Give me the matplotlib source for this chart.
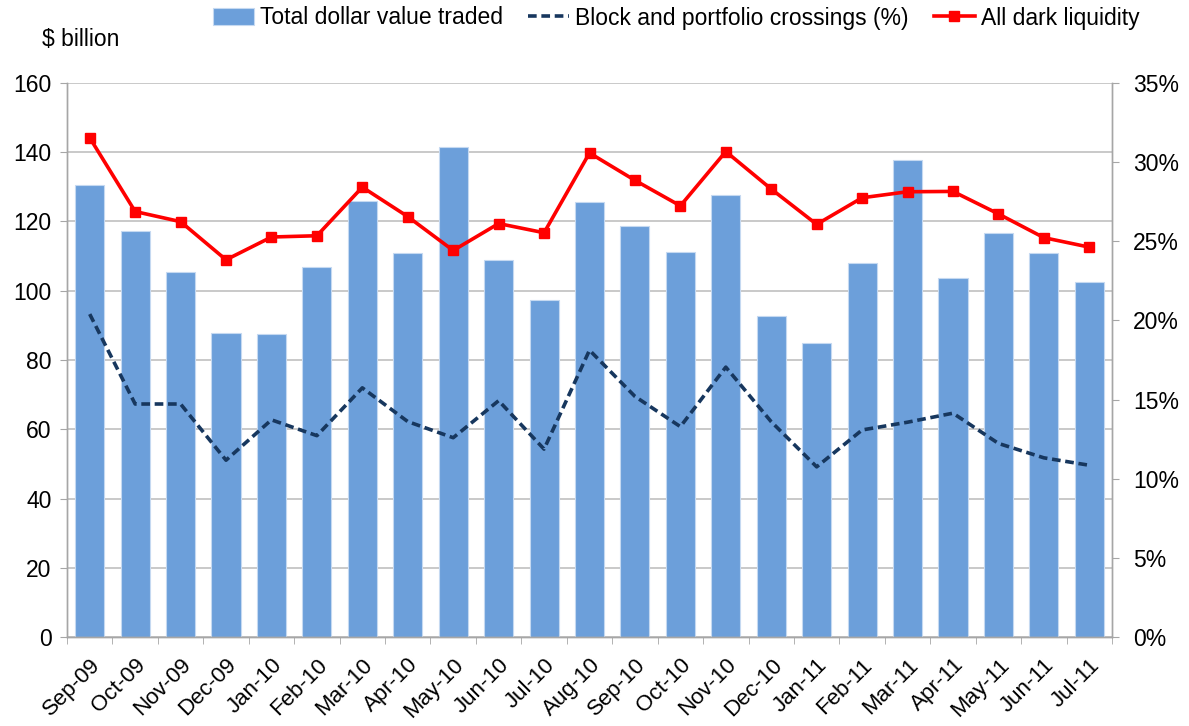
import matplotlib
matplotlib.use("Agg")
import matplotlib.pyplot as plt
import numpy as np
from matplotlib.ticker import FuncFormatter, MultipleLocator

plt.rcParams['font.family'] = ['Liberation Sans', 'DejaVu Sans']

months = ["Sep-09", "Oct-09", "Nov-09", "Dec-09", "Jan-10", "Feb-10", "Mar-10", "Apr-10",
          "May-10", "Jun-10", "Jul-10", "Aug-10", "Sep-10", "Oct-10", "Nov-10", "Dec-10",
          "Jan-11", "Feb-11", "Mar-11", "Apr-11", "May-11", "Jun-11", "Jul-11"]
total_value = [130.5, 117.3, 105.5, 87.9, 87.5, 106.9, 125.9, 110.8, 141.6, 109.0, 97.2, 125.6,
               118.7, 111.2, 127.7, 92.6, 85.0, 108.0, 137.8, 103.7, 116.6, 110.9, 102.6]
block_pct = [20.4, 14.72, 14.72, 11.17, 13.72, 12.72, 15.74, 13.61, 12.59, 14.93, 11.87, 18.12,
             15.2, 13.29, 17.05, 13.6, 10.75, 13.08, 13.57, 14.14, 12.23, 11.32, 10.85]
dark_pct = [31.54, 26.88, 26.24, 23.83, 25.27, 25.35, 28.42, 26.56, 24.42, 26.12, 25.54, 30.58,
            28.85, 27.24, 30.67, 28.3, 26.07, 27.75, 28.13, 28.15, 26.73, 25.23, 24.63]

fig = plt.figure(figsize=(11.89, 7.26), dpi=100)
ax = fig.add_axes([67/1189, (726-637)/726, (1112-67)/1189, (637-83)/726])
ax2 = ax.twinx()

x = np.arange(len(months))
bars = ax.bar(x, total_value, width=0.64, color='#6C9FDA', edgecolor='#C5D9F1', linewidth=0.8,
              label='Total dollar value traded', zorder=2)
ax.set_ylim(0, 160)
ax.set_xlim(-0.5, len(months) - 0.5)
ax.yaxis.set_major_locator(MultipleLocator(20))
ax.grid(axis='y', color='#C0C0C0', linewidth=1.2, zorder=0)
ax.set_axisbelow(True)

line_block, = ax2.plot(x, block_pct, color='#17375E', linewidth=2.6, linestyle=(0, (2.4, 1.3)),
                       label='Block and portfolio crossings (%)', zorder=3)
line_dark, = ax2.plot(x, dark_pct, color='#FF0000', linewidth=2.6, marker='s', markersize=6.5,
                      label='All dark liquidity', zorder=4)
ax2.set_ylim(0, 35)
ax2.yaxis.set_major_locator(MultipleLocator(5))
ax2.yaxis.set_major_formatter(FuncFormatter(lambda v, p: f"{int(round(v))}%"))

for a in (ax, ax2):
    for s in a.spines.values():
        s.set_color('#A6A6A6')
        s.set_linewidth(1.0)
    a.spines['top'].set_visible(False)

ax.set_xticks(x)
ax.set_xticklabels(months, rotation=45, ha='right', rotation_mode='anchor', fontsize=16)
ax.set_xticks(np.arange(-0.5, len(months), 1), minor=True)
ax.tick_params(axis='x', which='major', length=0, pad=12.5)
ax.tick_params(axis='x', which='minor', length=5, color='#A6A6A6', direction='out')
ax.tick_params(axis='y', labelsize=16.5, length=5, color='#A6A6A6', direction='out', pad=6)
ax2.tick_params(axis='y', labelsize=16.5, length=5, color='#A6A6A6', direction='out', pad=10)

fig.text(42/1189, 1 - 40/726, "$ billion", fontsize=16.5, va='center', ha='left')

fig.legend(handles=[bars, line_block, line_dark], loc='center', bbox_to_anchor=(676/1189, 1 - 18/726),
           ncol=3, frameon=False, fontsize=16.5, handlelength=1.8, handletextpad=0.25,
           columnspacing=1.1)

fig.savefig("out.png", dpi=100)
